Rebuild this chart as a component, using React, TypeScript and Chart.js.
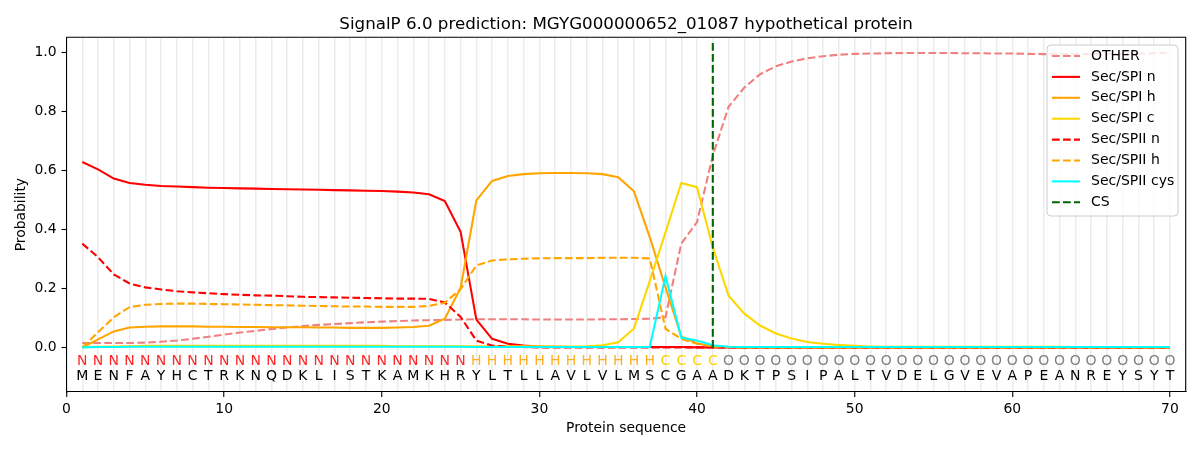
import { useEffect, useRef } from 'react';
import { Chart, registerables } from 'chart.js';

Chart.register(...registerables);

const TITLE = 'SignalP 6.0 prediction: MGYG000000652_01087 hypothetical protein';
const FONT = "'DejaVu Sans', sans-serif";

const sequence = 'MENFAYHCTRKNQDKLISTKAMKHRYLTLLAVLVLMSCGAADKTPSIPALTVDELGVEVAPEANREYSYT'.split('');
const regions = 'NNNNNNNNNNNNNNNNNNNNNNNNNHHHHHHHHHHHHCCCCOOOOOOOOOOOOOOOOOOOOOOOOOOOOO'.split('');
const residues = sequence.map((_, i) => i + 1);

const otherProb = [
  0.016, 0.016, 0.016, 0.016, 0.017, 0.02, 0.024, 0.03, 0.037, 0.044,
  0.051, 0.057, 0.063, 0.068, 0.073, 0.077, 0.08, 0.083, 0.086, 0.088,
  0.09, 0.092, 0.093, 0.094, 0.095, 0.096, 0.096, 0.096, 0.096, 0.095,
  0.095, 0.095, 0.095, 0.096, 0.096, 0.097, 0.098, 0.103, 0.352, 0.425,
  0.65, 0.815, 0.88, 0.925, 0.952, 0.968, 0.979, 0.986, 0.991, 0.994,
  0.995, 0.996, 0.997, 0.997, 0.997, 0.997, 0.996, 0.996, 0.995, 0.995,
  0.994, 0.993, 0.993, 0.993, 0.993, 0.993, 0.994, 0.995, 0.996, 0.998,
];
const spiN = [
  0.628, 0.603, 0.572, 0.557, 0.551, 0.547, 0.545, 0.543, 0.541, 0.54,
  0.539, 0.538, 0.537, 0.536, 0.535, 0.534, 0.533, 0.532, 0.531, 0.53,
  0.528, 0.525, 0.519, 0.496, 0.392, 0.095, 0.03, 0.013, 0.007, 0.004,
  0.003, 0.002, 0.002, 0.002, 0.002, 0.002, 0.002, 0.002, 0.002, 0.001,
  0.001, 0.001, 0.001, 0.001, 0.001, 0.001, 0.001, 0.001, 0.001, 0.001,
  0.001, 0.001, 0.001, 0.001, 0.001, 0.001, 0.001, 0.001, 0.001, 0.001,
  0.001, 0.001, 0.001, 0.001, 0.001, 0.001, 0.001, 0.001, 0.001, 0.001,
];
const spiH = [
  0.0, 0.028, 0.055, 0.068, 0.071, 0.072, 0.072, 0.072, 0.071, 0.071,
  0.07, 0.07, 0.069, 0.069, 0.069, 0.068, 0.068, 0.067, 0.067, 0.067,
  0.068, 0.07, 0.074, 0.098, 0.202, 0.498, 0.564, 0.581, 0.587, 0.59,
  0.591, 0.591, 0.59, 0.587, 0.577, 0.529, 0.374, 0.204, 0.038, 0.015,
  0.004, 0.002, 0.001, 0.001, 0.001, 0.001, 0.001, 0.001, 0.001, 0.001,
  0.001, 0.001, 0.001, 0.001, 0.001, 0.001, 0.001, 0.001, 0.001, 0.001,
  0.001, 0.001, 0.001, 0.001, 0.001, 0.001, 0.001, 0.001, 0.001, 0.001,
];
const spiC = [
  0.002, 0.003, 0.004, 0.005, 0.006, 0.006, 0.006, 0.006, 0.006, 0.006,
  0.006, 0.006, 0.006, 0.006, 0.006, 0.006, 0.006, 0.006, 0.006, 0.006,
  0.005, 0.005, 0.005, 0.005, 0.005, 0.005, 0.005, 0.005, 0.005, 0.005,
  0.004, 0.004, 0.005, 0.008, 0.018, 0.065, 0.225, 0.39, 0.557, 0.543,
  0.339, 0.176, 0.115, 0.075, 0.048, 0.031, 0.019, 0.013, 0.009, 0.006,
  0.004, 0.003, 0.003, 0.003, 0.003, 0.003, 0.003, 0.003, 0.003, 0.003,
  0.003, 0.003, 0.003, 0.002, 0.002, 0.002, 0.002, 0.002, 0.002, 0.002,
];
const spiiN = [
  0.352, 0.306, 0.248, 0.217, 0.204, 0.197, 0.191, 0.187, 0.184, 0.181,
  0.179, 0.177, 0.176, 0.174, 0.172, 0.171, 0.17, 0.169, 0.168, 0.167,
  0.166, 0.166, 0.165, 0.153, 0.104, 0.024, 0.007, 0.003, 0.002, 0.001,
  0.001, 0.001, 0.001, 0.001, 0.001, 0.001, 0.001, 0.001, 0.001, 0.001,
  0.001, 0.001, 0.001, 0.001, 0.001, 0.001, 0.001, 0.001, 0.001, 0.001,
  0.001, 0.001, 0.001, 0.001, 0.001, 0.001, 0.001, 0.001, 0.001, 0.001,
  0.001, 0.001, 0.001, 0.001, 0.001, 0.001, 0.001, 0.001, 0.001, 0.001,
];
const spiiH = [
  0.0, 0.052, 0.103, 0.137, 0.145, 0.148, 0.149, 0.149, 0.148, 0.147,
  0.146, 0.145, 0.144, 0.143, 0.142, 0.141, 0.14, 0.139, 0.139, 0.138,
  0.138, 0.138, 0.141, 0.152, 0.198, 0.278, 0.295, 0.299, 0.301, 0.302,
  0.303, 0.303, 0.303, 0.304, 0.304, 0.304, 0.302, 0.064, 0.03, 0.013,
  0.004, 0.002, 0.001, 0.001, 0.001, 0.001, 0.001, 0.001, 0.001, 0.001,
  0.001, 0.001, 0.001, 0.001, 0.001, 0.001, 0.001, 0.001, 0.001, 0.001,
  0.001, 0.001, 0.001, 0.001, 0.001, 0.001, 0.001, 0.001, 0.001, 0.001,
];
const spiiCys = [
  0.001, 0.002, 0.002, 0.003, 0.003, 0.003, 0.003, 0.003, 0.003, 0.003,
  0.003, 0.003, 0.003, 0.003, 0.003, 0.003, 0.003, 0.003, 0.003, 0.003,
  0.003, 0.003, 0.003, 0.003, 0.003, 0.002, 0.002, 0.002, 0.002, 0.002,
  0.002, 0.002, 0.002, 0.002, 0.002, 0.002, 0.002, 0.242, 0.034, 0.024,
  0.008, 0.003, 0.002, 0.002, 0.002, 0.002, 0.002, 0.002, 0.002, 0.002,
  0.002, 0.002, 0.002, 0.002, 0.002, 0.002, 0.002, 0.002, 0.002, 0.002,
  0.002, 0.002, 0.002, 0.002, 0.002, 0.002, 0.002, 0.002, 0.002, 0.002,
];

// cleavage site and the height of its marker line
const csSite = 41;
const csTop = 1.035;

const xTicks = Array.from({ length: 71 }, (_, i) => i);
const yTicks = [0, 0.2, 0.4, 0.6, 0.8, 1.0];

const regionColors: Record<string, string> = {
  N: 'rgb(255, 40, 40)',
  H: 'rgb(255, 175, 30)',
  C: 'rgb(255, 210, 0)',
  O: 'rgb(128, 128, 128)',
};

const DASH = [7.7, 3.3];

const toPoints = (values: number[]) => residues.map((r, i) => ({ x: r, y: values[i] }));

const sequencePlugin = {
  id: 'sequenceLabels',
  afterDatasetsDraw(chart: Chart) {
    const { ctx, scales } = chart;
    const x = scales.x;
    const y = scales.y;
    ctx.save();
    ctx.font = `14px ${FONT}`;
    ctx.textAlign = 'center';
    ctx.textBaseline = 'middle';
    residues.forEach((r, i) => {
      const px = x.getPixelForValue(r);
      ctx.fillStyle = regionColors[regions[i]];
      ctx.fillText(regions[i], px, y.getPixelForValue(-0.047));
      ctx.fillStyle = '#000';
      ctx.fillText(sequence[i], px, y.getPixelForValue(-0.098));
    });
    ctx.restore();
  },
};

const framePlugin = {
  id: 'frameAndLegend',
  afterDraw(chart: Chart) {
    const { ctx, chartArea } = chart;
    ctx.save();
    // title over the plot area
    ctx.fillStyle = '#000';
    ctx.font = `16.7px ${FONT}`;
    ctx.textAlign = 'center';
    ctx.textBaseline = 'alphabetic';
    ctx.fillText(TITLE, (chartArea.left + chartArea.right) / 2, 29);

    // top and right spines
    ctx.strokeStyle = '#000';
    ctx.lineWidth = 1.1;
    ctx.beginPath();
    ctx.moveTo(chartArea.left, chartArea.top);
    ctx.lineTo(chartArea.right, chartArea.top);
    ctx.lineTo(chartArea.right, chartArea.bottom);
    ctx.stroke();

    // legend box, upper right
    const w = 131;
    const h = 171;
    const left = chartArea.right - 7.7 - w;
    const top = chartArea.top + 7.7;
    ctx.beginPath();
    ctx.roundRect(left, top, w, h, 4);
    ctx.fillStyle = 'rgba(255, 255, 255, 0.8)';
    ctx.fill();
    ctx.strokeStyle = '#cccccc';
    ctx.lineWidth = 1;
    ctx.stroke();

    ctx.font = `14px ${FONT}`;
    ctx.textAlign = 'left';
    ctx.textBaseline = 'middle';
    chart.data.datasets.forEach((ds: any, i: number) => {
      const cy = top + 11 + i * 20.9;
      ctx.strokeStyle = ds.borderColor;
      ctx.lineWidth = 2.08;
      ctx.setLineDash(ds.borderDash || []);
      ctx.beginPath();
      ctx.moveTo(left + 5, cy);
      ctx.lineTo(left + 33, cy);
      ctx.stroke();
      ctx.setLineDash([]);
      ctx.fillStyle = '#000';
      ctx.fillText(ds.label, left + 44, cy);
    });
    ctx.restore();
  },
};

export default function App() {
  const canvasRef = useRef<HTMLCanvasElement>(null);

  useEffect(() => {
    document.body.style.margin = '0';
    if (!canvasRef.current) return;

    const line = (label: string, values: number[], color: string, dashed: boolean, order: number) => ({
      label,
      data: toPoints(values),
      borderColor: color,
      borderWidth: 2.08,
      borderDash: dashed ? DASH : [],
      pointRadius: 0,
      tension: 0,
      fill: false,
      order,
    });

    const chart = new Chart(canvasRef.current, {
      type: 'line',
      data: {
        datasets: [
          line('OTHER', otherProb, '#f08080', true, 8),
          line('Sec/SPI n', spiN, '#ff0000', false, 7),
          line('Sec/SPI h', spiH, '#ffa500', false, 6),
          line('Sec/SPI c', spiC, '#ffd700', false, 5),
          line('Sec/SPII n', spiiN, '#ff0000', true, 4),
          line('Sec/SPII h', spiiH, '#ffa500', true, 3),
          line('Sec/SPII cys', spiiCys, '#00ffff', false, 2),
          {
            label: 'CS',
            data: [
              { x: csSite, y: 0 },
              { x: csSite, y: csTop },
            ],
            borderColor: '#006400',
            borderWidth: 2.08,
            borderDash: DASH,
            pointRadius: 0,
            fill: false,
            order: 1,
          },
        ],
      },
      options: {
        animation: false,
        responsive: true,
        maintainAspectRatio: false,
        layout: { padding: { left: 0, right: 14.3, top: 37.3, bottom: 0 } },
        plugins: {
          legend: { display: false },
          tooltip: { enabled: false },
          title: { display: false },
        },
        scales: {
          x: {
            type: 'linear',
            min: 0,
            max: 71,
            afterFit: (s: any) => {
              s.height = 58;
            },
            afterBuildTicks: (s: any) => {
              s.ticks = xTicks.map((v) => ({ value: v }));
            },
            grid: {
              display: true,
              drawOnChartArea: true,
              color: (c: any) => (c.tick && c.tick.value >= 1 ? '#ececec' : 'rgba(0,0,0,0)'),
              lineWidth: 1.5,
              drawTicks: true,
              tickLength: 5,
              tickWidth: 1.1,
              tickColor: (c: any) => (c.tick && c.tick.value % 10 === 0 ? '#000' : 'rgba(0,0,0,0)'),
            },
            border: { display: true, color: '#000', width: 1.1 },
            ticks: {
              autoSkip: false,
              maxRotation: 0,
              padding: 4,
              color: '#000',
              font: { family: FONT, size: 13.9 },
              callback: (v: any) => (Number(v) % 10 === 0 ? String(v) : ''),
            },
            title: {
              display: true,
              text: 'Protein sequence',
              color: '#000',
              font: { family: FONT, size: 13.9 },
              padding: { top: 0, bottom: 13.7 },
            },
          },
          y: {
            type: 'linear',
            min: -0.15,
            max: 1.05,
            afterFit: (s: any) => {
              s.width = 66.5;
            },
            afterBuildTicks: (s: any) => {
              s.ticks = yTicks.map((v) => ({ value: v }));
            },
            grid: {
              display: true,
              drawOnChartArea: false,
              drawTicks: true,
              tickLength: 5,
              tickWidth: 1.1,
              tickColor: '#000',
            },
            border: { display: true, color: '#000', width: 1.1 },
            ticks: {
              padding: 5,
              color: '#000',
              font: { family: FONT, size: 13.9 },
              callback: (v: any) => Number(v).toFixed(1),
            },
            title: {
              display: true,
              text: 'Probability',
              color: '#000',
              font: { family: FONT, size: 13.9 },
              padding: { top: 13.3, bottom: 0 },
            },
          },
        },
      },
      plugins: [sequencePlugin, framePlugin],
    });

    return () => {
      chart.destroy();
    };
  }, []);

  return (
    <div style={{ position: 'relative', width: '1200px', height: '450px' }}>
      <canvas ref={canvasRef}></canvas>
    </div>
  );
}
